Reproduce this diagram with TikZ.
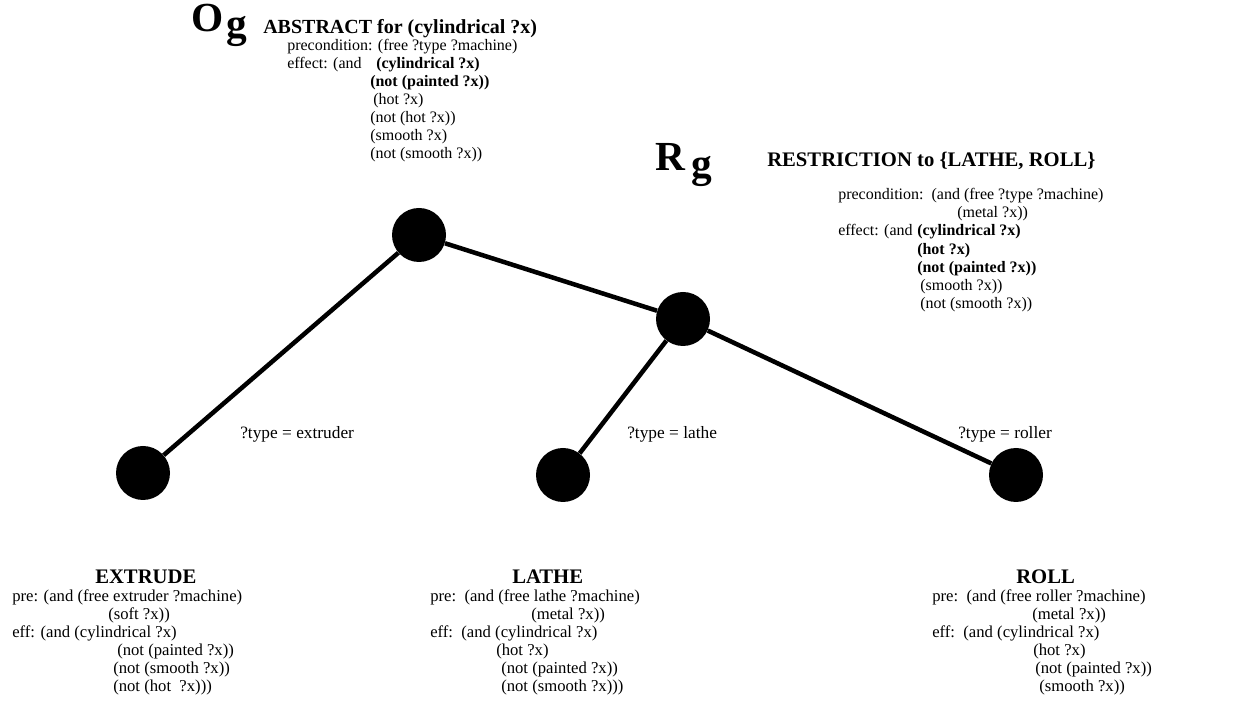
\documentclass[tikz,border=0pt]{standalone}
\usepackage{fontspec}
\setmainfont{Liberation Serif}
\begin{document}
\begin{tikzpicture}[x=0.75pt,y=-0.75pt,
  txt/.style={anchor=base west, inner sep=0pt, font=\fontsize{12.5}{14}\selectfont},
  stxt/.style={anchor=base west, inner sep=0pt, font=\fontsize{12}{14}\selectfont},
  sbtxt/.style={anchor=base west, inner sep=0pt, font=\fontsize{12}{14}\selectfont\bfseries},
  lbl/.style={anchor=base west, inner sep=0pt, font=\fontsize{13}{14}\selectfont},
  ttl/.style={anchor=base west, inner sep=0pt, font=\fontsize{15.5}{17}\selectfont\bfseries},
  big/.style={anchor=base west, inner sep=0pt, font=\fontsize{31}{32}\selectfont\bfseries},
  dot/.style={circle, fill=black, inner sep=0pt, minimum size=40.5pt},
  edgeline/.style={line width=3.4pt}]
\useasboundingbox (0,0) rectangle (1254,712);

% tree nodes
\node[dot] (root) at (419,235) {};
\node[dot] (rg) at (683,319) {};
\node[dot] (ext) at (143,473) {};
\node[dot] (lat) at (563,475) {};
\node[dot] (rol) at (1016,475) {};
\draw[edgeline] (root) -- (ext);
\draw[edgeline] (root) -- (rg);
\draw[edgeline] (rg) -- (lat);
\draw[edgeline] (rg) -- (rol);

% O_g block
\node[big] (oO) at (191,32) {O};
\node[big] (og) at (226,38) {g};
\node[ttl, font=\fontsize{15}{17}\selectfont\bfseries] (otitle) at (263,34) {ABSTRACT for (cylindrical ?x)};
\node[stxt] (o1) at (287,51) {precondition: (free ?type ?machine)};
\node[stxt] (o2) at (287,69) {effect: (and};
\node[sbtxt] (o2b) at (376,69) {(cylindrical ?x)};
\node[sbtxt] (o3) at (370,87) {(not (painted ?x))};
\node[stxt] (o4) at (373,105) {(hot ?x)};
\node[stxt] (o5) at (370,123) {(not (hot ?x))};
\node[stxt] (o6) at (370,141) {(smooth ?x)};
\node[stxt] (o7) at (370,159) {(not (smooth ?x))};

% R_g block
\node[big] (rR) at (655,171) {R};
\node[big] (rgg) at (691,178) {g};
\node[ttl] (rtitle) at (767,167) {RESTRICTION to \{LATHE, ROLL\}};
\node[stxt] (r1) at (838,200) {precondition:\ \ (and (free ?type ?machine)};
\node[stxt] (r2) at (957,218) {(metal ?x))};
\node[stxt] (r3) at (838,236) {effect: (and};
\node[sbtxt] (r3b) at (917,236) {(cylindrical ?x)};
\node[sbtxt] (r4) at (917,255) {(hot ?x)};
\node[sbtxt] (r5) at (917,273) {(not (painted ?x))};
\node[stxt] (r6) at (920,291) {(smooth ?x))};
\node[stxt] (r7) at (920,309) {(not (smooth ?x))};

% edge labels
\node[lbl] (l1) at (240,439) {?type = extruder};
\node[lbl] (l2) at (627,439) {?type = lathe};
\node[lbl] (l3) at (958,439) {?type = roller};

% EXTRUDE
\node[ttl] (et) at (95,584) {EXTRUDE};
\node[txt] (e1) at (12,602) {pre: (and (free extruder ?machine)};
\node[txt] (e2) at (108,620) {(soft ?x))};
\node[txt] (e3) at (12,638) {eff: (and (cylindrical ?x)};
\node[txt] (e4) at (117,656) {(not (painted ?x))};
\node[txt] (e5) at (113,674) {(not (smooth ?x))};
\node[txt] (e6) at (113,692) {(not (hot\ \ ?x)))};

% LATHE
\node[ttl] (at) at (512,584) {LATHE};
\node[txt] (a1) at (430,602) {pre:\ \ (and (free lathe ?machine)};
\node[txt] (a2) at (531,620) {(metal ?x))};
\node[txt] (a3) at (430,638) {eff:\ \ (and (cylindrical ?x)};
\node[txt] (a4) at (496,656) {(hot ?x)};
\node[txt] (a5) at (501,674) {(not (painted ?x))};
\node[txt] (a6) at (501,692) {(not (smooth ?x)))};

% ROLL
\node[ttl] (bt) at (1016,584) {ROLL};
\node[txt] (b1) at (932,602) {pre:\ \ (and (free roller ?machine)};
\node[txt] (b2) at (1032,620) {(metal ?x))};
\node[txt] (b3) at (932,638) {eff:\ \ (and (cylindrical ?x)};
\node[txt] (b4) at (1033,656) {(hot ?x)};
\node[txt] (b5) at (1035,674) {(not (painted ?x))};
\node[txt] (b6) at (1039,692) {(smooth ?x))};
\end{tikzpicture}
\end{document}
